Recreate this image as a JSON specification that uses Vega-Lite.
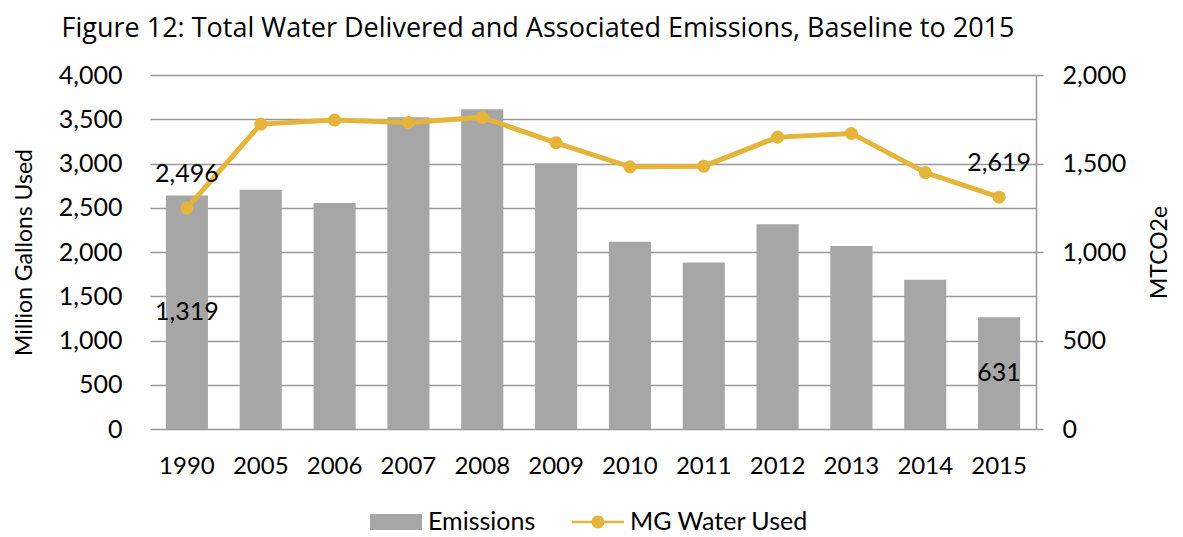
{
  "$schema": "https://vega.github.io/schema/vega-lite/v6.json",
  "autosize": {"type": "none"},
  "width": 886,
  "height": 354,
  "padding": {"left": 150, "top": 75, "right": 147, "bottom": 108},
  "background": "white",
  "config": {
    "font": "Lato",
    "view": {"stroke": null},
    "axis": {"labelFontSize": 25, "labelColor": "#000", "titleFontSize": 23, "titleColor": "#000", "titleFontWeight": "normal", "labelFont": "Lato", "titleFont": "Lato"},
    "legend": {"labelFont": "Lato"}
  },
  "title": {"text": "Figure 12: Total Water Delivered and Associated Emissions, Baseline to 2015", "fontSize": 27, "fontWeight": "normal", "color": "#000", "anchor": "middle", "dx": -55, "offset": 20, "font": "Open Sans"},
  "data": {"values": [
    {"Year": "1990", "Emissions": 1319, "Water": 2496},
    {"Year": "2005", "Emissions": 1351, "Water": 3445},
    {"Year": "2006", "Emissions": 1277, "Water": 3491},
    {"Year": "2007", "Emissions": 1762, "Water": 3464},
    {"Year": "2008", "Emissions": 1806, "Water": 3521},
    {"Year": "2009", "Emissions": 1502, "Water": 3234},
    {"Year": "2010", "Emissions": 1058, "Water": 2962},
    {"Year": "2011", "Emissions": 941, "Water": 2970},
    {"Year": "2012", "Emissions": 1157, "Water": 3298},
    {"Year": "2013", "Emissions": 1034, "Water": 3340},
    {"Year": "2014", "Emissions": 843, "Water": 2898},
    {"Year": "2015", "Emissions": 631, "Water": 2619}
  ]},
  "encoding": {
    "x": {"field": "Year", "type": "ordinal", "scale": {"paddingInner": 0.43, "paddingOuter": 0.215},
      "axis": {"title": null, "labelAngle": 0, "labelFontSize": 24, "ticks": false, "domain": false, "grid": false, "labelPadding": 25}}
  },
  "layer": [
    {
      "mark": {"type": "bar", "color": "#A6A6A6"},
      "encoding": {
        "y": {"field": "Emissions", "type": "quantitative", "scale": {"domain": [0, 2000]},
          "axis": {"orient": "right", "title": "MTCO2e", "titleAngle": 270, "titleX": 135, "grid": false, "values": [0, 500, 1000, 1500, 2000], "format": ",.0f", "domainColor": "#999999", "domainWidth": 1.5, "tickColor": "#999999", "tickWidth": 1.5, "tickSize": 7, "labelPadding": 19}},
        "color": {"datum": "Emissions", "type": "nominal",
          "scale": {"domain": ["Emissions", "MG Water Used"], "range": ["#A6A6A6", "#E5B43A"]},
          "legend": {"orient": "none", "legendX": 220, "legendY": 421, "padding": 0, "direction": "horizontal", "title": null, "labelFontSize": 25, "labelColor": "#000", "labelLimit": 400, "symbolSize": 2704, "columnPadding": 36, "labelOffset": 6,
            "encode": {"symbols": {"update": {
              "shape": {"signal": "datum.value === 'Emissions' ? 'M-1,-0.31H1V0.31H-1Z' : 'M-1,-0.045H1V0.045H-1Z M0.25,0A0.25,0.25 0 1,1 -0.25,0A0.25,0.25 0 1,1 0.25,0Z'"},
              "fill": {"signal": "datum.value === 'Emissions' ? '#A6A6A6' : '#E5B43A'"},
              "stroke": {"value": "transparent"},
              "strokeWidth": {"value": 0},
              "opacity": {"value": 1}
            }}}}
        }
      }
    },
    {
      "transform": [{"filter": {"field": "Year", "oneOf": ["1990", "2015"]}}],
      "mark": {"type": "text", "fontSize": 25, "color": "#000", "baseline": "middle", "align": "center"},
      "encoding": {
        "y": {"field": "Emissions", "type": "quantitative", "scale": {"domain": [0, 4000]}, "axis": null},
        "text": {"field": "Emissions", "type": "quantitative", "format": ",.0f"}
      }
    },
    {
      "mark": {"type": "line", "strokeWidth": 5, "point": {"size": 170, "filled": true}},
      "encoding": {
        "y": {"field": "Water", "type": "quantitative", "scale": {"domain": [0, 4000]},
          "axis": {"orient": "left", "title": "Million Gallons Used", "titleX": -114, "grid": true, "gridColor": "#999999", "gridWidth": 1.5, "values": [0, 500, 1000, 1500, 2000, 2500, 3000, 3500, 4000], "format": ",.0f", "domain": false, "ticks": false, "labelPadding": 28}},
        "color": {"datum": "MG Water Used", "type": "nominal"}
      }
    },
    {
      "transform": [{"filter": {"field": "Year", "oneOf": ["1990", "2015"]}}],
      "mark": {"type": "text", "fontSize": 25, "color": "#000", "baseline": "middle", "align": "center", "dy": -34},
      "encoding": {
        "y": {"field": "Water", "type": "quantitative", "scale": {"domain": [0, 4000]}, "axis": null},
        "text": {"field": "Water", "type": "quantitative", "format": ",.0f"}
      }
    }
  ],
  "resolve": {"scale": {"y": "independent"}}
}
